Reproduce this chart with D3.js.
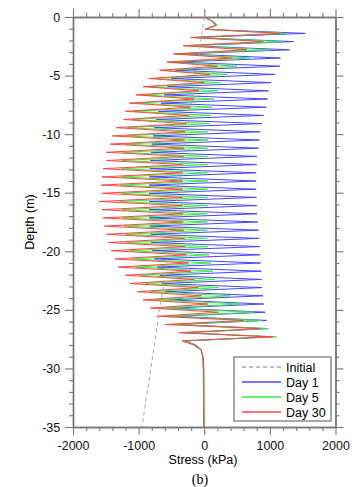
<!DOCTYPE html>
<html>
<head>
<meta charset="utf-8">
<script src="https://cdn.jsdelivr.net/npm/d3@7/dist/d3.min.js"></script>
<style>
  html, body { margin: 0; padding: 0; background: #fff; }
  svg { display: block; }
  .axis text { font-family: "Liberation Sans", Arial, sans-serif; font-size: 12.5px; fill: #111; }
  .axis path, .axis line { stroke: #777; }
</style>
</head>
<body>
<svg id="chart" width="358" height="487"></svg>
<script>
// Stress along the depth (kPa vs m)
const xMajor = [-2000, -1000, 0, 1000, 2000];
const yMajor = [0, -5, -10, -15, -20, -25, -30, -35];

// depths of the right-hand (tension) tips and left-hand (compression) tips
const peakDepth = [-1.4, -2.1, -2.8, -3.5, -4.2, -4.9, -5.6, -6.3, -7.0, -7.7,
  -8.4, -9.1, -9.8, -10.5, -11.2, -11.9, -12.6, -13.3, -14.0, -14.7,
  -15.4, -16.1, -16.8, -17.5, -18.2, -18.9, -19.6, -20.3, -21.0, -21.7,
  -22.4, -23.1, -23.8, -24.5, -25.2, -25.9, -26.6, -27.3];
const troughDepth = [-1.75, -2.45, -3.15, -3.85, -4.55, -5.25, -5.95, -6.65, -7.35, -8.05,
  -8.75, -9.45, -10.15, -10.85, -11.55, -12.25, -12.95, -13.65, -14.35, -15.05,
  -15.75, -16.45, -17.15, -17.85, -18.55, -19.25, -19.95, -20.65, -21.35, -22.05,
  -22.75, -23.45, -24.15, -24.85, -25.55, -26.25, -26.95];
const headDepth = [0, -0.35, -0.7, -1.05];
const tailDepth = [-27.65, -28.0, -28.4, -29.0, -30.0, -35.0];

// Day 1
const day1Peak = [1540, 1360, 1300, 1160, 1150, 1080, 1015, 980, 965, 945,
  905, 880, 855, 840, 830, 800, 800, 790, 790, 790,
  795, 800, 805, 815, 825, 835, 845, 850, 860, 870,
  875, 880, 895, 905, 930, 950, 975, 1000];
const day1Trough = [-150, -230, -320, -390, -440, -500, -560, -610, -660, -700,
  -730, -760, -780, -800, -810, -820, -830, -835, -840, -840,
  -840, -840, -835, -830, -820, -810, -790, -760, -720, -680,
  -640, -590, -540, -500, -450, -400, -300];
const day1Head = [0, 120, 185, 20];
const day1Tail = [-280, -130, -45, -25, -15, -10];

// Day 5
const day5Peak = [1250, 1200, 1000, 700, 500, 350, 250, 200, 150, 120,
  100, 80, 60, 60, 50, 50, 50, 50, 50, 50,
  50, 50, 50, 50, 50, 50, 60, 70, 100, 130,
  160, 220, 400, 550, 750, 880, 970, 1100];
const day5Trough = [-200, -300, -440, -540, -640, -770, -850, -940, -1020, -1070,
  -1100, -1160, -1190, -1210, -1240, -1250, -1260, -1270, -1280, -1270,
  -1280, -1260, -1240, -1220, -1200, -1180, -1140, -1100, -1050, -980,
  -900, -820, -750, -670, -600, -500, -330];
const day5Head = [0, 130, 200, 30];
const day5Tail = [-310, -150, -50, -20, -10, -5];

// Day 30
const day30Peak = [1150, 900, 650, 430, 200, 90, 0, -80, -150, -200,
  -240, -270, -290, -300, -310, -320, -320, -330, -330, -330,
  -330, -330, -320, -320, -310, -300, -290, -270, -240, -200,
  -150, -90, -40, 60, 220, 600, 850, 1050];
const day30Trough = [-210, -320, -470, -570, -680, -840, -930, -1040, -1140, -1200,
  -1230, -1340, -1400, -1430, -1490, -1490, -1540, -1560, -1570, -1560,
  -1600, -1560, -1540, -1520, -1490, -1460, -1420, -1360, -1310, -1200,
  -1130, -1020, -930, -820, -720, -600, -380];
const day30Head = [0, 110, 175, 10];
const day30Tail = [-340, -160, -55, -15, -5, 0];

// Initial state
const initStress = [0, -30, -950];
const initDepth = [0, -1.2, -35];

const legendNames = ["Initial", "Day 1", "Day 5", "Day 30"];
const colors = { "Initial": "#a8a8a8", "Day 1": "#4646ff", "Day 5": "#38ee38", "Day 30": "#ff4646" };

function buildProfile(head, peak, trough, tail) {
  const pts = [];
  headDepth.forEach((d, i) => pts.push([head[i], d]));
  peak.forEach((v, i) => {
    pts.push([v, peakDepth[i]]);
    if (i < trough.length) pts.push([trough[i], troughDepth[i]]);
  });
  tailDepth.forEach((d, i) => pts.push([tail[i], d]));
  return pts;
}

const series = [
  { name: "Day 1", pts: buildProfile(day1Head, day1Peak, day1Trough, day1Tail) },
  { name: "Day 5", pts: buildProfile(day5Head, day5Peak, day5Trough, day5Tail) },
  { name: "Day 30", pts: buildProfile(day30Head, day30Peak, day30Trough, day30Tail) }
];
const initPts = initStress.map((v, i) => [v, initDepth[i]]);

const svg = d3.select("#chart");
const L = 73, R = 335.5, T = 17, B = 427;
const x = d3.scaleLinear().domain([-2000, 2000]).range([L, R]);
const y = d3.scaleLinear().domain([0, -35]).range([T, B]);

const xMinor = d3.range(-2000, 2001, 200).filter(v => !xMajor.includes(v));
const yMinor = d3.range(0, -35.5, -1).filter(v => !yMajor.includes(v));
const fmt = d => String(d);

function drawAxis(gen, transform, values, size, labels) {
  const g = svg.append("g").attr("class", "axis").attr("transform", transform)
    .call(gen.tickValues(values).tickSize(size).tickSizeOuter(0)
      .tickPadding(labels ? 6 : 0).tickFormat(labels ? fmt : () => ""));
  g.select(".domain").attr("stroke-width", 1.4);
  g.selectAll(".tick line").attr("stroke-width", 1.1);
  return g;
}
drawAxis(d3.axisBottom(x), `translate(0,${B})`, xMinor, 4, false);
drawAxis(d3.axisBottom(x), `translate(0,${B})`, xMajor, 8, true);
drawAxis(d3.axisTop(x), `translate(0,${T})`, xMinor, 4, false);
drawAxis(d3.axisTop(x), `translate(0,${T})`, xMajor, 8, false);
drawAxis(d3.axisLeft(y), `translate(${L},0)`, yMinor, 4, false);
drawAxis(d3.axisLeft(y), `translate(${L},0)`, yMajor, 8, true).selectAll("text").attr("dx", "0.1em");
drawAxis(d3.axisRight(y), `translate(${R},0)`, yMinor, 4, false);
drawAxis(d3.axisRight(y), `translate(${R},0)`, yMajor, 8, false);

const line = d3.line().x(d => x(d[0])).y(d => y(d[1]));
const plot = svg.append("g");
series.forEach(s => {
  plot.append("path").datum(s.pts).attr("d", line)
    .attr("fill", "none").attr("stroke", colors[s.name])
    .attr("stroke-width", 1).attr("stroke-linejoin", "miter").attr("stroke-miterlimit", 20);
});
plot.append("path").datum(initPts).attr("d", line)
  .attr("fill", "none").attr("stroke", colors["Initial"])
  .attr("stroke-width", 1).attr("stroke-dasharray", "4,3");

// axis titles
svg.append("text").attr("x", 203).attr("y", 464).attr("text-anchor", "middle")
  .attr("font-family", "Liberation Sans, Arial, sans-serif").attr("font-size", 12.5)
  .text("Stress (kPa)");
svg.append("text").attr("transform", `translate(34,${(T + B) / 2}) rotate(-90)`)
  .attr("text-anchor", "middle")
  .attr("font-family", "Liberation Sans, Arial, sans-serif").attr("font-size", 12.5)
  .text("Depth (m)");
svg.append("text").attr("x", 200).attr("y", 484).attr("text-anchor", "middle")
  .attr("font-family", "Liberation Serif, Times New Roman, serif").attr("font-size", 14)
  .text("(b)");

// legend
const lg = svg.append("g").attr("transform", "translate(234,357)");
lg.append("rect").attr("width", 97).attr("height", 64)
  .attr("fill", "#fff").attr("stroke", "#555").attr("stroke-width", 1);
legendNames.forEach((n, i) => {
  const yy = 10 + i * 15;
  lg.append("line").attr("x1", 8).attr("x2", 47).attr("y1", yy).attr("y2", yy)
    .attr("stroke", colors[n]).attr("stroke-width", 1.6)
    .attr("stroke-dasharray", n === "Initial" ? "4,3" : null);
  lg.append("text").attr("x", 52).attr("y", yy + 4.5)
    .attr("font-family", "Liberation Sans, Arial, sans-serif").attr("font-size", 12.5)
    .text(n);
});
</script>
</body>
</html>
